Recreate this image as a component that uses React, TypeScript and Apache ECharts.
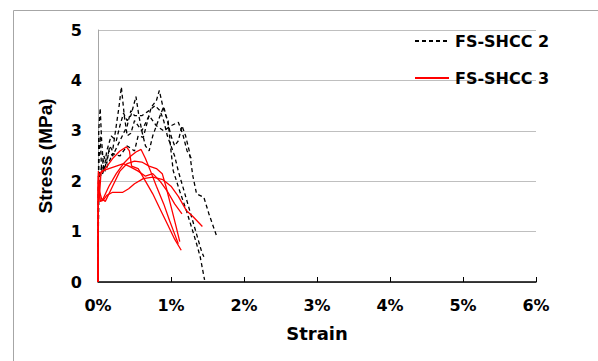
import React, { useEffect, useRef } from "react";
import * as echarts from "echarts";

// strain in %, stress in MPa
const yTicks = [0, 1, 2, 3, 4, 5];
const xTicks = [0, 1, 2, 3, 4, 5, 6];

const shcc2A: [number, number][] = [[0,0],[0.01,2.3],[0.03,2.9],[0.05,2.2],[0.08,2.5],[0.12,2.35],[0.16,2.7],[0.2,2.6],[0.25,3.1],[0.29,3.5],[0.32,3.87],[0.36,3.3],[0.4,2.9],[0.45,2.95],[0.5,3.2],[0.6,3.0],[0.7,3.3],[0.8,3.1],[0.9,3.0],[1.0,3.1],[1.1,3.17],[1.16,2.94],[1.22,2.6],[1.3,2.4]];
const shcc2B: [number, number][] = [[0,0],[0.01,2.0],[0.05,2.3],[0.1,2.2],[0.2,2.55],[0.3,2.5],[0.4,2.7],[0.5,2.6],[0.55,2.9],[0.62,2.87],[0.68,3.2],[0.73,3.47],[0.8,3.6],[0.84,3.8],[0.89,3.47],[0.93,3.3],[0.96,3.2],[1.0,2.6],[1.03,2.21],[1.12,1.8],[1.21,1.42],[1.3,1.0],[1.35,0.76],[1.4,0.5],[1.46,0.04]];
const shcc2C: [number, number][] = [[0,0],[0.01,3.0],[0.03,3.45],[0.05,2.8],[0.08,2.2],[0.12,2.6],[0.18,2.9],[0.25,2.8],[0.3,3.1],[0.35,3.35],[0.4,3.2],[0.45,3.3],[0.52,3.68],[0.56,3.3],[0.6,3.0],[0.65,2.7],[0.7,2.6],[0.75,2.9],[0.85,3.3],[0.9,3.48],[0.95,3.2],[1.0,2.9],[1.05,2.7],[1.1,2.8],[1.15,3.1],[1.2,2.9],[1.25,2.6],[1.3,2.1],[1.35,1.75],[1.45,1.68],[1.52,1.35],[1.63,0.89]];
const shcc2D: [number, number][] = [[0,0],[0.01,2.2],[0.05,2.1],[0.1,2.3],[0.15,2.6],[0.2,2.5],[0.3,2.8],[0.4,3.1],[0.45,3.4],[0.5,3.3],[0.6,3.3],[0.7,3.4],[0.78,3.5],[0.85,3.4],[0.9,3.2],[0.95,2.9],[1.0,2.7],[1.05,2.5],[1.1,2.2],[1.2,1.7],[1.3,1.2],[1.36,0.9],[1.42,0.6],[1.45,0.5]];

const shcc3A: [number, number][] = [[0,0],[0.005,2.1],[0.02,1.7],[0.04,2.15],[0.1,2.25],[0.2,2.45],[0.3,2.6],[0.39,2.68],[0.43,2.6],[0.46,2.3],[0.55,2.25],[0.65,2.0],[0.75,1.75],[0.85,1.45],[0.95,1.15],[1.05,0.85],[1.14,0.63]];
const shcc3B: [number, number][] = [[0,0],[0.005,2.0],[0.03,1.6],[0.07,1.65],[0.15,1.9],[0.25,2.15],[0.35,2.35],[0.45,2.5],[0.52,2.58],[0.59,2.63],[0.65,2.45],[0.72,2.2],[0.8,1.9],[0.9,1.55],[0.98,1.22],[1.05,0.95],[1.1,0.76]];
const shcc3C: [number, number][] = [[0,0],[0.005,1.9],[0.03,1.6],[0.07,1.62],[0.12,1.72],[0.2,1.78],[0.34,1.78],[0.42,1.85],[0.5,1.95],[0.62,2.05],[0.75,2.08],[0.89,2.03],[1.0,1.9],[1.1,1.7],[1.21,1.42],[1.3,1.3],[1.43,1.1]];
const shcc3D: [number, number][] = [[0,0],[0.005,2.2],[0.02,1.8],[0.05,1.65],[0.1,1.6],[0.2,1.9],[0.3,2.2],[0.4,2.35],[0.5,2.4],[0.6,2.38],[0.7,2.3],[0.8,2.25],[0.88,2.15],[0.93,1.9],[1.0,1.5],[1.07,1.1],[1.12,0.8]];
const shcc3E: [number, number][] = [[0,0],[0.005,2.1],[0.05,2.2],[0.15,2.25],[0.25,2.3],[0.35,2.35],[0.45,2.28],[0.55,2.2],[0.65,2.1],[0.75,2.15],[0.85,2.0],[0.95,1.8],[1.05,1.55],[1.15,1.35]];

const NAME2 = "FS-SHCC 2";
const NAME3 = "FS-SHCC 3";
const group2 = [shcc2A, shcc2B, shcc2C, shcc2D];
const group3 = [shcc3A, shcc3B, shcc3C, shcc3D, shcc3E];

const WIDE = "DejaVu Sans";
const NARROW = "Liberation Sans";

export default function App() {
  const ref = useRef<HTMLDivElement>(null);
  useEffect(() => {
    if (!ref.current) return;
    const chart = echarts.init(ref.current, undefined, { renderer: "svg" });
    const series: any[] = [];
    group2.forEach((d) =>
      series.push({
        name: NAME2,
        type: "line",
        data: d,
        symbol: "none",
        showSymbol: false,
        lineStyle: { color: "#000", width: 1.3, type: [4, 3] },
        itemStyle: { color: "#000" },
      })
    );
    group3.forEach((d) =>
      series.push({
        name: NAME3,
        type: "line",
        data: d,
        symbol: "none",
        showSymbol: false,
        lineStyle: { color: "#ff0000", width: 1.3 },
        itemStyle: { color: "#ff0000" },
      })
    );
    chart.setOption({
      animation: false,
      backgroundColor: "#fff",
      grid: { left: 98, right: 62, top: 30, bottom: 79, containLabel: false },
      legend: {
        data: [NAME2, NAME3],
        orient: "vertical",
        left: 414,
        top: 33,
        padding: 0,
        itemWidth: 34,
        itemHeight: 14,
        itemGap: 21,
        itemStyle: { opacity: 0 },
        textStyle: { fontFamily: WIDE, fontWeight: "bold", fontSize: 16, color: "#000", padding: [0, 0, 0, 1] },
      },
      xAxis: {
        type: "value",
        min: 0,
        max: 6,
        interval: 1,
        name: "Strain",
        nameLocation: "middle",
        nameGap: 42,
        nameTextStyle: { fontFamily: WIDE, fontWeight: "bold", fontSize: 18, color: "#000" },
        axisLine: { lineStyle: { color: "#000", width: 1.5 } },
        axisTick: { show: true, inside: true, length: 5, lineStyle: { color: "#000" } },
        axisLabel: {
          formatter: (v: number) => (xTicks.includes(v) ? v + "%" : ""),
          fontFamily: WIDE,
          fontWeight: "bold",
          fontSize: 16,
          color: "#000",
          margin: 15,
        },
        splitLine: { show: false },
      },
      yAxis: {
        type: "value",
        min: 0,
        max: 5,
        interval: 1,
        name: "Stress (MPa)",
        nameLocation: "middle",
        nameGap: 43,
        nameTextStyle: { fontFamily: NARROW, fontWeight: "bold", fontSize: 19, color: "#000" },
        axisLine: { show: true, lineStyle: { color: "#a6a6a6", width: 1 } },
        axisTick: { show: false },
        axisLabel: {
          formatter: (v: number) => (yTicks.includes(v) ? String(v) : ""),
          fontFamily: WIDE,
          fontWeight: "bold",
          fontSize: 16,
          color: "#000",
          margin: 16,
        },
        splitLine: { show: true, lineStyle: { color: "#bfbfbf", width: 1 } },
      },
      graphic: [
        {
          type: "rect",
          left: 11,
          top: 8,
          shape: { x: 0, y: 0, width: 600, height: 370 },
          style: { fill: "none", stroke: "#a6a6a6", lineWidth: 1 },
          silent: true,
          z: -1,
        },
      ],
      series,
    });
    return () => chart.dispose();
  }, []);
  return (
    <div
      ref={ref}
      style={{ position: "fixed", left: 0, top: 0, width: 598, height: 361 }}
    />
  );
}
